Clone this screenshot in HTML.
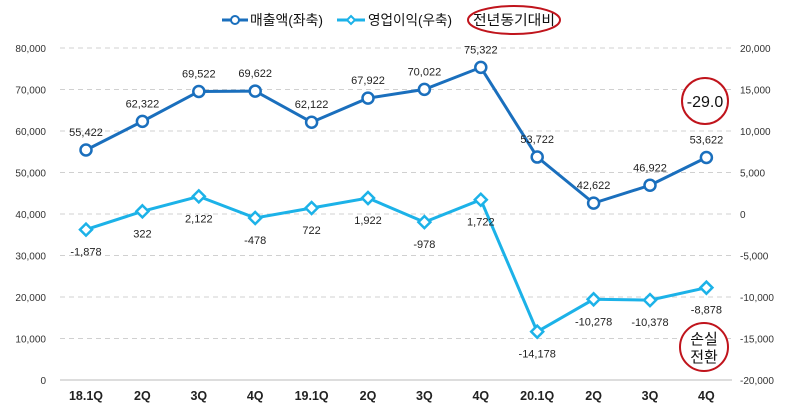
<!DOCTYPE html>
<html><head><meta charset="utf-8"><style>
body{margin:0;background:#fff;font-family:"Liberation Sans","Noto Sans CJK KR",sans-serif}
svg text{font-family:"Liberation Sans","Noto Sans CJK KR",sans-serif}
</style></head><body>
<svg id="c" width="788" height="410"></svg>
<script>
const categories=["18.1Q","2Q","3Q","4Q","19.1Q","2Q","3Q","4Q","20.1Q","2Q","3Q","4Q"];
const revenue=[55422,62322,69522,69622,62122,67922,70022,75322,53722,42622,46922,53622];
const opProfit=[-1878,322,2122,-478,722,1922,-978,1722,-14178,-10278,-10378,-8878];
const leftTicks=[0,10000,20000,30000,40000,50000,60000,70000,80000];
const rightTicks=[-20000,-15000,-10000,-5000,0,5000,10000,15000,20000];
const NS="http://www.w3.org/2000/svg",svg=document.getElementById('c');
const x=i=>86+i*56.4;
const yL=v=>380-v*332/80000;
const yR=v=>214-v*332/40000;
const fmt=v=>v.toLocaleString('en-US');
function el(t,a,txt){const e=document.createElementNS(NS,t);for(const k in a)e.setAttribute(k,a[k]);if(txt!=null)e.textContent=txt;svg.appendChild(e);return e;}
leftTicks.forEach((v,i)=>{
 if(v>0){const g=el('line',{x1:60,x2:732,y1:yL(v),y2:yL(v),stroke:'#d0d0d0','stroke-dasharray':'5,4'});
 
 }
 const t=el('text',{x:46,y:yL(v)+4,'text-anchor':'end','font-size':10,fill:'#333'},fmt(v));
 
 
});
const base=el('line',{x1:60,x2:732,y1:380,y2:380,stroke:'#bbb'});


rightTicks.forEach(v=>{
 const t=el('text',{x:740,y:yR(v)+4,'font-size':10,fill:'#333'},fmt(v));
 
 
});
categories.forEach((c,i)=>{
 const t=el('text',{x:x(i),y:400,'text-anchor':'middle','font-size':12.5,'font-weight':'bold',fill:'#222'},c);
 
 
});
const p1=el('polyline',{points:revenue.map((v,i)=>x(i)+','+yL(v)).join(' '),fill:'none',stroke:'#1a6fbd','stroke-width':3});


const p2=el('polyline',{points:opProfit.map((v,i)=>x(i)+','+yR(v)).join(' '),fill:'none',stroke:'#1cb2e8','stroke-width':3});


revenue.forEach((v,i)=>{
 const c=el('circle',{cx:x(i),cy:yL(v),r:5.5,fill:'#fff',stroke:'#1a6fbd','stroke-width':2.5});
 
 
 const t=el('text',{x:x(i),y:yL(v)-14,'text-anchor':'middle','font-size':11,fill:'#222'},fmt(v));
 
 
});
opProfit.forEach((v,i)=>{
 const X=x(i),Y=yR(v);
 const d=el('polygon',{points:`${X},${Y-6} ${X+6},${Y} ${X},${Y+6} ${X-6},${Y}`,fill:'#fff',stroke:'#1cb2e8','stroke-width':2.5});
 
 
 const t=el('text',{x:X,y:Y+26,'text-anchor':'middle','font-size':11,fill:'#222'},fmt(v));
 
 
});
// legend
const l1=el('line',{x1:222,x2:248,y1:20,y2:20,stroke:'#1a6fbd','stroke-width':3});


const l1c=el('circle',{cx:235,cy:20,r:4,fill:'#fff',stroke:'#1a6fbd','stroke-width':2});


const l1t=el('text',{x:250,y:25,'font-size':14,fill:'#111',textLength:73,lengthAdjust:'spacingAndGlyphs'},'매출액(좌축)');


const l2=el('line',{x1:337,x2:365,y1:20,y2:20,stroke:'#1cb2e8','stroke-width':3});


const l2d=el('polygon',{points:'351,16 355,20 351,24 347,20',fill:'#fff',stroke:'#1cb2e8','stroke-width':2});


const l2t=el('text',{x:368,y:25,'font-size':14,fill:'#111',textLength:84,lengthAdjust:'spacingAndGlyphs'},'영업이익(우축)');


const l3t=el('text',{x:473,y:25,'font-size':14,fill:'#111',textLength:82,lengthAdjust:'spacingAndGlyphs'},'전년동기대비');


const e1=el('ellipse',{cx:514,cy:20,rx:46,ry:14,fill:'none',stroke:'#c0141c','stroke-width':2});


// annotations
const a1=el('circle',{cx:705,cy:101,r:23,fill:'#fff',stroke:'#c0141c','stroke-width':2});


const a1t=el('text',{x:705,y:107,'text-anchor':'middle','font-size':16,fill:'#111'},'-29.0');


const a2=el('circle',{cx:704,cy:347,r:24,fill:'#fff',stroke:'#c0141c','stroke-width':2});


const a2t=el('text',{x:704,y:344,'text-anchor':'middle','font-size':15,fill:'#111'},'손실');


const a3t=el('text',{x:704,y:362,'text-anchor':'middle','font-size':15,fill:'#111'},'전환');


</script>
</body></html>
